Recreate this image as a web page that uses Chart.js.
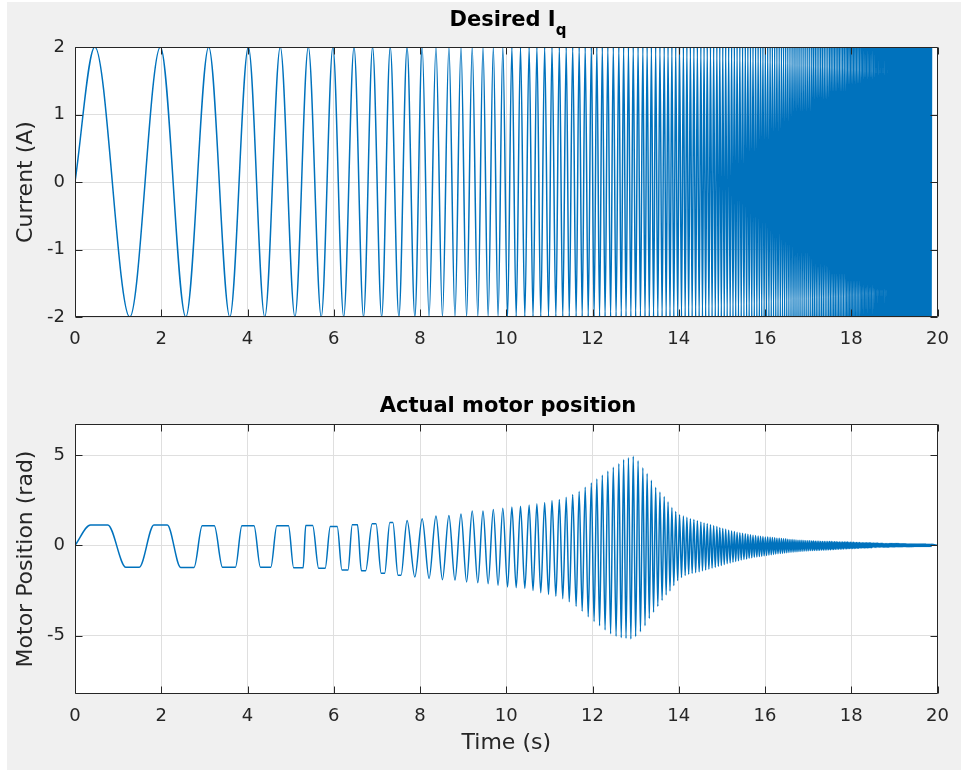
<!DOCTYPE html>
<html>
<head>
<meta charset="utf-8">
<title>Desired Iq / Actual motor position</title>
<script src="https://cdn.jsdelivr.net/npm/chart.js"></script>
<style>
  html, body { margin: 0; padding: 0; background: #ffffff; }
  #figure { position: relative; width: 961px; height: 770px; background: #f0f0f0; overflow: hidden; }
  .edge { position: absolute; background: #ffffff; }
  canvas { position: absolute; left: 0; }
  .ttl { position: absolute; left: 75px; width: 866px; text-align: center; color: #000000;
         font: bold 21px 'DejaVu Sans', sans-serif; line-height: 25px; white-space: nowrap; }
  .ttl .sub { font-size: 15px; position: relative; top: 9px; }
</style>
</head>
<body>
<div id="figure">
  <div class="edge" style="left:0;top:0;width:7px;height:770px"></div>
  <div class="edge" style="left:0;top:0;width:961px;height:2px"></div>
  <canvas id="iq-chart" width="961" height="385" style="top:0"></canvas>
  <canvas id="pos-chart" width="961" height="385" style="top:385px"></canvas>
  <div class="ttl" style="top:7px">Desired I<span class="sub">q</span></div>
  <div class="ttl" style="top:393px">Actual motor position</div>
</div>
<script>
// Tick labels
const timeTicks = [0, 2, 4, 6, 8, 10, 12, 14, 16, 18, 20];
const iqTicks = [-2, -1, 0, 1, 2];
const posTicks = [-5, 0, 5];

// Time (s) of the start point and of every peak / trough of the chirp
const timeS = [
  0,
  0.46, 1.27, 1.98, 2.57, 3.10, 3.59, 4.02, 4.40, 4.76, 5.10,
  5.41, 5.71, 5.98, 6.23, 6.47, 6.69, 6.90, 7.11, 7.31, 7.51,
  7.70, 7.88, 8.05, 8.21, 8.37, 8.52, 8.67, 8.81, 8.95, 9.08,
  9.21, 9.34, 9.46, 9.58, 9.70, 9.81, 9.92, 10.03, 10.13, 10.23,
  10.33, 10.43, 10.53, 10.62, 10.71, 10.80, 10.89, 10.98, 11.06, 11.15,
  11.23, 11.31, 11.39, 11.46, 11.54, 11.62, 11.69, 11.76, 11.83, 11.90,
  11.972, 12.036, 12.100, 12.163, 12.227, 12.291, 12.355, 12.419, 12.482, 12.546,
  12.610, 12.666, 12.721, 12.777, 12.833, 12.889, 12.944, 13.000, 13.056, 13.111,
  13.167, 13.217, 13.266, 13.316, 13.365, 13.415, 13.464, 13.514, 13.563, 13.613,
  13.662, 13.707, 13.751, 13.796, 13.840, 13.885, 13.929, 13.974, 14.018, 14.063,
  14.107, 14.148, 14.188, 14.229, 14.269, 14.310, 14.350, 14.391, 14.431, 14.472,
  14.512, 14.549, 14.586, 14.623, 14.660, 14.698, 14.735, 14.772, 14.809, 14.846,
  14.883, 14.917, 14.951, 14.986, 15.020, 15.054, 15.088, 15.122, 15.157, 15.191,
  15.225, 15.257, 15.289, 15.320, 15.352, 15.384, 15.416, 15.448, 15.479, 15.511,
  15.543, 15.573, 15.602, 15.632, 15.662, 15.692, 15.721, 15.751, 15.781, 15.810,
  15.840, 15.868, 15.896, 15.923, 15.951, 15.979, 16.007, 16.035, 16.062, 16.090,
  16.118, 16.144, 16.170, 16.197, 16.223, 16.249, 16.275, 16.301, 16.328, 16.354,
  16.380, 16.405, 16.429, 16.454, 16.479, 16.504, 16.528, 16.553, 16.578, 16.602,
  16.627, 16.650, 16.673, 16.695, 16.718, 16.741, 16.764, 16.787, 16.809, 16.832,
  16.855, 16.878, 16.901, 16.923, 16.946, 16.969, 16.992, 17.015, 17.037, 17.060,
  17.083, 17.104, 17.124, 17.145, 17.166, 17.187, 17.207, 17.228, 17.249, 17.269,
  17.290, 17.311, 17.331, 17.352, 17.373, 17.394, 17.414, 17.435, 17.456, 17.476,
  17.497, 17.516, 17.535, 17.554, 17.573, 17.592, 17.611, 17.630, 17.649, 17.668,
  17.687, 17.705, 17.724, 17.743, 17.762, 17.781, 17.800, 17.819, 17.838, 17.857,
  17.876, 17.893, 17.911, 17.928, 17.946, 17.963, 17.981, 17.998, 18.016, 18.033,
  18.051, 18.068, 18.085, 18.103, 18.120, 18.138, 18.155, 18.173, 18.190, 18.208,
  18.225, 18.241, 18.257, 18.273, 18.290, 18.306, 18.322, 18.338, 18.354, 18.370,
  18.387, 18.403, 18.419, 18.435, 18.451, 18.467, 18.483, 18.500, 18.516, 18.532,
  18.548, 18.563, 18.578, 18.593, 18.608, 18.624, 18.639, 18.654, 18.669, 18.684,
  18.699, 18.714, 18.729, 18.744, 18.759, 18.775, 18.790, 18.805, 18.820, 18.835,
  18.850, 18.864, 18.878, 18.892, 18.906, 18.921, 18.935, 18.949, 18.963, 18.977,
  18.991, 19.005, 19.019, 19.033, 19.047, 19.062, 19.076, 19.090, 19.104, 19.118,
  19.132, 19.145, 19.159, 19.172, 19.185, 19.199, 19.212, 19.225, 19.238, 19.252,
  19.265, 19.278, 19.292, 19.305, 19.318, 19.332, 19.345, 19.358, 19.371, 19.385,
  19.398, 19.411, 19.423, 19.436, 19.448, 19.461, 19.473, 19.486, 19.498, 19.511,
  19.523, 19.536, 19.548, 19.561, 19.573, 19.586, 19.598, 19.611, 19.623, 19.636,
  19.648, 19.660, 19.672, 19.683, 19.695, 19.707, 19.719, 19.731, 19.742, 19.754,
  19.766, 19.778, 19.790, 19.801, 19.813, 19.825, 19.837, 19.849, 19.860
];

// Desired Iq (A) at each of those times
const iqAmp = [
  0,
  2, -2, 2, -2, 2, -2, 2, -2, 2, -2,
  2, -2, 2, -2, 2, -2, 2, -2, 2, -2,
  2, -2, 2, -2, 2, -2, 2, -2, 2, -2,
  2, -2, 2, -2, 2, -2, 2, -2, 2, -2,
  2, -2, 2, -2, 2, -2, 2, -2, 2, -2,
  2, -2, 2, -2, 2, -2, 2, -2, 2, -2,
  2, -2, 2, -2, 2, -2, 2, -2, 2, -2,
  2, -2, 2, -2, 2, -2, 2, -2, 2, -2,
  2, -2, 2, -2, 2, -2, 2, -2, 2, -2,
  2, -2, 2, -2, 2, -2, 2, -2, 2, -2,
  2, -2, 2, -2, 2, -2, 2, -2, 2, -2,
  2, -2, 2, -2, 2, -2, 2, -2, 2, -2,
  2, -2, 2, -2, 2, -2, 2, -2, 2, -2,
  2, -2, 2, -2, 2, -2, 2, -2, 2, -2,
  2, -2, 2, -2, 2, -2, 2, -2, 2, -2,
  2, -2, 2, -2, 2, -2, 2, -2, 2, -2,
  2, -2, 2, -2, 2, -2, 2, -2, 2, -2,
  2, -2, 2, -2, 2, -2, 2, -2, 2, -2,
  2, -2, 2, -2, 2, -2, 2, -2, 2, -2,
  2, -2, 2, -2, 2, -2, 2, -2, 2, -2,
  2, -2, 2, -2, 2, -2, 2, -2, 2, -2,
  2, -2, 2, -2, 2, -2, 2, -2, 2, -2,
  2, -2, 2, -2, 2, -2, 2, -2, 2, -2,
  2, -2, 2, -2, 2, -2, 2, -2, 2, -2,
  2, -2, 2, -2, 2, -2, 2, -2, 2, -2,
  2, -2, 2, -2, 2, -2, 2, -2, 2, -2,
  2, -2, 2, -2, 2, -2, 2, -2, 2, -2,
  2, -2, 2, -2, 2, -2, 2, -2, 2, -2,
  2, -2, 2, -2, 2, -2, 2, -2, 2, -2,
  2, -2, 2, -2, 2, -2, 2, -2, 2, -2,
  2, -2, 2, -2, 2, -2, 2, -2, 2, -2,
  2, -2, 2, -2, 2, -2, 2, -2, 2, -2,
  2, -2, 2, -2, 2, -2, 2, -2, 2, -2,
  2, -2, 2, -2, 2, -2, 2, -2, 2, -2,
  2, -2, 2, -2, 2, -2, 2, -2, 2, -2,
  2, -2, 2, -2, 2, -2, 2, -2, 2, -2,
  2, -2, 2, -2, 2, -2, 2, -2, 2, -2,
  2, -2, 2, -2, 2, -2, 2, -2, 2
];

// Motor position, first 7.5 s: flat-topped swings (start and end of each plateau)
const posEarlyTime = [
  0,
  0.36, 0.76, 1.18, 1.49, 1.83, 2.14, 2.45, 2.76, 2.95, 3.23,
  3.42, 3.72, 3.87, 4.15, 4.30, 4.54, 4.68, 4.95, 5.07, 5.29,
  5.35, 5.51, 5.65, 5.80, 5.92, 6.08, 6.19, 6.33, 6.43, 6.55,
  6.64, 6.74, 6.89, 6.98, 7.10, 7.18, 7.30, 7.37, 7.49, 7.56
];
const posEarlyRad = [
  0,
  1.13, 1.13, -1.21, -1.21, 1.13, 1.13, -1.22, -1.22, 1.08, 1.08,
  -1.21, -1.21, 1.08, 1.08, -1.21, -1.21, 1.09, 1.09, -1.24, -1.24,
  1.10, 1.10, -1.27, -1.27, 1.04, 1.04, -1.36, -1.36, 1.14, 1.14,
  -1.40, -1.40, 1.19, 1.19, -1.55, -1.55, 1.26, 1.26, -1.65, -1.65
];

// Motor position (rad) at the later peaks / troughs (same times as timeS from 7.70 s on)
const posLateRad = [
  1.38, -1.75, 1.47, -1.83, 1.62, -1.90, 1.66, -1.92, 1.73, -2.03,
  1.90, -2.07, 1.90, -2.12, 1.99, -2.21, 2.05, -2.30, 2.12, -2.34,
  2.17, -2.38, 2.23, -2.50, 2.30, -2.62, 2.38, -2.72, 2.48, -2.82,
  2.54, -2.95, 2.66, -3.12, 2.82, -3.38, 2.99, -3.65, 3.22, -3.95,
  3.45, -4.22, 3.68, -4.45, 3.88, -4.68, 4.10, -4.90, 4.32, -5.03,
  4.52, -5.11, 4.75, -5.15, 4.85, -5.18, 4.93, -5.05, 4.68, -4.78,
  4.30, -4.45, 3.98, -4.05, 3.60, -3.70, 3.22, -3.38, 2.95, -3.05,
  2.70, -2.75, 2.42, -2.52, 2.10, -2.22, 1.88, -1.95, 1.70, -1.78,
  1.62, -1.67, 1.55, -1.60, 1.48, -1.55, 1.43, -1.51, 1.36, -1.46,
  1.29, -1.41, 1.24, -1.36, 1.20, -1.31, 1.14, -1.26, 1.09, -1.21,
  1.04, -1.16, 0.98, -1.11, 0.94, -1.06, 0.89, -1.01, 0.84, -0.97,
  0.80, -0.93, 0.77, -0.89, 0.73, -0.85, 0.70, -0.81, 0.67, -0.78,
  0.64, -0.75, 0.61, -0.72, 0.59, -0.69, 0.56, -0.66, 0.54, -0.64,
  0.52, -0.62, 0.50, -0.60, 0.49, -0.58, 0.47, -0.56, 0.46, -0.54,
  0.45, -0.52, 0.43, -0.50, 0.42, -0.48, 0.40, -0.46, 0.39, -0.45,
  0.38, -0.44, 0.37, -0.42, 0.36, -0.41, 0.34, -0.39, 0.33, -0.38,
  0.32, -0.37, 0.31, -0.36, 0.30, -0.35, 0.29, -0.34, 0.29, -0.33,
  0.28, -0.32, 0.27, -0.31, 0.26, -0.31, 0.26, -0.30, 0.25, -0.29,
  0.24, -0.29, 0.24, -0.28, 0.23, -0.28, 0.23, -0.27, 0.23, -0.27,
  0.22, -0.26, 0.22, -0.26, 0.22, -0.25, 0.21, -0.25, 0.21, -0.24,
  0.21, -0.24, 0.21, -0.23, 0.20, -0.23, 0.20, -0.22, 0.20, -0.22,
  0.19, -0.21, 0.19, -0.21, 0.19, -0.20, 0.19, -0.20, 0.18, -0.19,
  0.18, -0.19, 0.18, -0.18, 0.17, -0.18, 0.17, -0.17, 0.17, -0.17,
  0.17, -0.17, 0.16, -0.16, 0.16, -0.16, 0.16, -0.16, 0.16, -0.15,
  0.15, -0.15, 0.15, -0.15, 0.15, -0.14, 0.15, -0.14, 0.14, -0.14,
  0.14, -0.13, 0.14, -0.13, 0.14, -0.13, 0.13, -0.12, 0.13, -0.12,
  0.13, -0.12, 0.13, -0.12, 0.13, -0.11, 0.12, -0.11, 0.12, -0.11,
  0.12, -0.11, 0.12, -0.10, 0.11, -0.10, 0.11, -0.10, 0.11, -0.10,
  0.11, -0.10, 0.11, -0.09, 0.11, -0.09, 0.11, -0.09, 0.10, -0.09,
  0.10, -0.09, 0.10, -0.08, 0.10, -0.08, 0.10, -0.08, 0.10, -0.08,
  0.09, -0.08, 0.09, -0.08, 0.09, -0.08, 0.09, -0.07, 0.09, -0.07,
  0.09, -0.07, 0.08, -0.07, 0.08, -0.07, 0.08, -0.07, 0.08, -0.07,
  0.08, -0.07, 0.08, -0.07, 0.08, -0.06, 0.08, -0.06, 0.07, -0.06,
  0.07, -0.06, 0.07, -0.06, 0.07, -0.06, 0.07, -0.06, 0.07, -0.06,
  0.07, -0.06, 0.07, -0.06, 0.07, -0.06, 0.07, -0.06, 0.06, -0.06,
  0.06, -0.06, 0.06, -0.06, 0.06, -0.06, 0.06, -0.06, 0.06
];
const posEndTime = [20];
const posEndRad = [0];

// Axis limits
const iqRange = [-2, 2];
const posRange = [-8.23, 6.72];

Chart.defaults.font.family = "'DejaVu Sans', sans-serif";
Chart.defaults.color = '#262626';

// white plot area, then a dark box with inward ticks on all four sides
const matlabBox = {
    id: 'matlabBox',
    beforeDraw: function (chart) {
        var a = chart.chartArea, ctx = chart.ctx;
        ctx.save();
        ctx.fillStyle = '#ffffff';
        ctx.fillRect(a.left, a.top, a.right - a.left, a.bottom - a.top);
        ctx.restore();
    },
    afterDraw: function (chart) {
        var a = chart.chartArea, ctx = chart.ctx;
        var L = Math.round(a.left) + 0.5, R = Math.round(a.right) - 0.5;
        var T = Math.round(a.top) + 0.5, B = Math.round(a.bottom) - 0.5;
        ctx.save();
        ctx.strokeStyle = '#262626';
        ctx.lineWidth = 1;
        ctx.beginPath();
        chart.scales.x.ticks.forEach(function (t) {
            var px = Math.round(chart.scales.x.getPixelForValue(t.value)) + 0.5;
            ctx.moveTo(px, B); ctx.lineTo(px, B - 7);
            ctx.moveTo(px, T); ctx.lineTo(px, T + 7);
        });
        chart.scales.y.ticks.forEach(function (t) {
            var py = Math.round(chart.scales.y.getPixelForValue(t.value)) + 0.5;
            ctx.moveTo(L, py); ctx.lineTo(L + 7, py);
            ctx.moveTo(R, py); ctx.lineTo(R - 7, py);
        });
        ctx.rect(L, T, R - L, B - T);
        ctx.stroke();
        ctx.restore();
    }
};

function makeChart(id, xs, ys, range, yTicks, yTitle, xTitle, topPad, xHeight) {
    var points = xs.map(function (t, i) { return { x: t, y: ys[i] }; });
    return new Chart(document.getElementById(id), {
        type: 'line',
        data: {
            datasets: [{
                data: points,
                borderColor: '#0072bd',
                borderWidth: 1.5,
                pointRadius: 0,
                fill: false,
                cubicInterpolationMode: 'monotone'
            }]
        },
        options: {
            responsive: false,
            animation: false,
            events: [],
            layout: { padding: { top: topPad, right: 20, bottom: 0, left: 0 } },
            plugins: { legend: { display: false }, tooltip: { enabled: false } },
            scales: {
                x: {
                    type: 'linear', min: 0, max: 20,
                    afterBuildTicks: function (s) { s.ticks = timeTicks.map(function (v) { return { value: v }; }); },
                    afterFit: function (s) { s.height = xHeight; },
                    grid: { color: '#dfdfdf', drawTicks: false },
                    border: { display: false },
                    ticks: { padding: 12, font: { size: 18 }, maxRotation: 0, autoSkip: false },
                    title: {
                        display: !!xTitle, text: xTitle || '',
                        font: { size: 22 }, padding: { top: 0, bottom: 14 }
                    }
                },
                y: {
                    type: 'linear', min: range[0], max: range[1],
                    afterBuildTicks: function (s) { s.ticks = yTicks.map(function (v) { return { value: v }; }); },
                    afterFit: function (s) { s.width = 75; },
                    grid: { color: '#dfdfdf', drawTicks: false },
                    border: { display: false },
                    ticks: { padding: 10, font: { size: 18 } },
                    title: {
                        display: true, text: yTitle,
                        font: { size: 22 }, padding: { top: 13, bottom: 0 }
                    }
                }
            }
        },
        plugins: [matlabBox]
    });
}

// Desired Iq
makeChart('iq-chart', timeS, iqAmp, iqRange, iqTicks, 'Current (A)', null, 47, 68);

// Actual motor position
var posTime = posEarlyTime.concat(timeS.slice(21), posEndTime);
var posRad = posEarlyRad.concat(posLateRad, posEndRad);
makeChart('pos-chart', posTime, posRad, posRange, posTicks, 'Motor Position (rad)', 'Time (s)', 39, 76);
</script>
</body>
</html>
